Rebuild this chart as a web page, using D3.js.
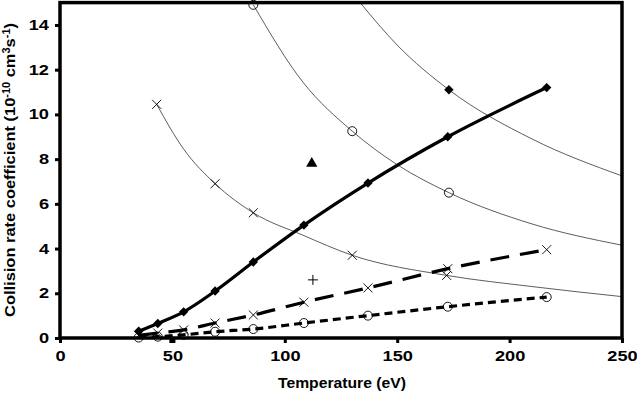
<!DOCTYPE html>
<html>
<head>
<meta charset="utf-8">
<script src="https://cdn.jsdelivr.net/npm/d3@7"></script>
<style>
  body { margin: 0; background: #fff; }
  text { font-family: "Liberation Sans", Arial, sans-serif; font-weight: bold; }
</style>
</head>
<body>
<div id="chart"></div>
<script>
// measured series (thick lines)
const temps = [35, 43.5, 55, 69, 86, 108.5, 137, 172.5, 216.5];
const rateDiamond = [0.3, 0.65, 1.17, 2.1, 3.4, 5.05, 6.93, 9.0, 11.2];
const rateCross = [0.12, 0.22, 0.36, 0.67, 1.03, 1.6, 2.24, 3.1, 3.95];
const rateCircle = [0.02, 0.06, 0.14, 0.28, 0.4, 0.67, 1.0, 1.4, 1.83];

// thin fitted curves
const fitA_T = [43, 55, 69, 86, 108, 130, 172, 210, 250];
const fitA = [10.45, 8.45, 6.9, 5.6, 4.6, 3.7, 2.8, 2.3, 1.85];
const fitA_marks = [[43, 10.45], [69, 6.9], [86, 5.6], [130, 3.7], [172, 2.8]];

const fitB_T = [86, 108, 130, 150, 173, 210, 250];
const fitB = [14.9, 11.45, 9.25, 7.75, 6.5, 5.1, 4.15];
const fitB_marks = [[86, 14.9], [130, 9.25], [173, 6.5]];

const fitC_T = [133.5, 150, 173, 210, 250];
const fitC = [15, 13.1, 11.1, 8.9, 7.25];
const fitC_marks = [[173, 11.1]];

// single points
const triPoint = [112, 7.8];
const plusPoint = [112.5, 2.6];
const squarePoint = [50, 0];

const xTicks = [0, 50, 100, 150, 200, 250];
const yTicks = [0, 2, 4, 6, 8, 10, 12, 14];

const W = 637, H = 396;
const margin = { top: 2.6, right: 15, bottom: 58, left: 60 };
const width = W - margin.left - margin.right;
const height = H - margin.top - margin.bottom;

const svg = d3.select("#chart").append("svg")
  .attr("width", W).attr("height", H);
const g = svg.append("g")
  .attr("transform", `translate(${margin.left},${margin.top})`);

const x = d3.scaleLinear().domain([0, 250]).range([0, width]);
const y = d3.scaleLinear().domain([0, 15]).range([height, 0]);

g.append("clipPath").attr("id", "clip")
  .append("rect").attr("width", width).attr("height", height);

const plot = g.append("g").attr("clip-path", "url(#clip)");

const line = d3.line().x(d => x(d[0])).y(d => y(d[1])).curve(d3.curveMonotoneX);

// thin curves
[[fitA_T, fitA], [fitB_T, fitB], [fitC_T, fitC]].forEach(([ts, vs]) => {
  plot.append("path")
    .datum(ts.map((t, i) => [t, vs[i]]))
    .attr("d", line)
    .attr("fill", "none")
    .attr("stroke", "#333")
    .attr("stroke-width", 0.8);
});

// thick series
plot.append("path")
  .datum(temps.map((t, i) => [t, rateCircle[i]]))
  .attr("d", line).attr("fill", "none")
  .attr("stroke", "#000").attr("stroke-width", 3.2)
  .attr("stroke-dasharray", "8,5");
plot.append("path")
  .datum(temps.map((t, i) => [t, rateCross[i]]))
  .attr("d", line).attr("fill", "none")
  .attr("stroke", "#000").attr("stroke-width", 3.2)
  .attr("stroke-dasharray", "19,11");
plot.append("path")
  .datum(temps.map((t, i) => [t, rateDiamond[i]]))
  .attr("d", line).attr("fill", "none")
  .attr("stroke", "#000").attr("stroke-width", 3.2);

// markers
const diamond = d3.symbol().type(d3.symbolSquare).size(44);
const drawCross = (sel, pts) => {
  sel.selectAll(null).data(pts).enter().append("path")
    .attr("d", d => {
      const cx = x(d[0]), cy = y(d[1]), s = 4.5;
      return `M${cx - s},${cy - s}L${cx + s},${cy + s}M${cx - s},${cy + s}L${cx + s},${cy - s}`;
    })
    .attr("stroke", "#000").attr("stroke-width", 0.9).attr("fill", "none");
};
const drawCircle = (sel, pts) => {
  sel.selectAll(null).data(pts).enter().append("circle")
    .attr("cx", d => x(d[0])).attr("cy", d => y(d[1])).attr("r", 4.5)
    .attr("fill", "none").attr("stroke", "#000").attr("stroke-width", 0.9);
};
const drawDiamond = (sel, pts) => {
  sel.selectAll(null).data(pts).enter().append("path")
    .attr("d", diamond)
    .attr("transform", d => `translate(${x(d[0])},${y(d[1])}) rotate(45)`)
    .attr("fill", "#000");
};

const marks = g.append("g");
drawCircle(marks, temps.map((t, i) => [t, rateCircle[i]]));
drawCross(marks, temps.map((t, i) => [t, rateCross[i]]));
drawDiamond(marks, temps.map((t, i) => [t, rateDiamond[i]]));
drawCross(marks, fitA_marks);
drawCircle(marks, fitB_marks);
drawDiamond(marks, fitC_marks);

marks.append("path")
  .attr("d", d3.symbol().type(d3.symbolTriangle).size(55))
  .attr("transform", `translate(${x(triPoint[0])},${y(triPoint[1])})`)
  .attr("fill", "#000");
marks.append("path")
  .attr("d", `M${x(plusPoint[0]) - 5},${y(plusPoint[1])}H${x(plusPoint[0]) + 5}M${x(plusPoint[0])},${y(plusPoint[1]) - 5}V${y(plusPoint[1]) + 5}`)
  .attr("stroke", "#000").attr("stroke-width", 1);
marks.append("rect")
  .attr("x", x(squarePoint[0]) - 3).attr("y", y(squarePoint[1]) - 1)
  .attr("width", 6).attr("height", 6).attr("fill", "#000");

// axes
const xAxis = g.append("g")
  .attr("transform", `translate(0,${height})`)
  .call(d3.axisBottom(x).tickValues(xTicks).tickSize(5).tickPadding(8));
const yAxis = g.append("g")
  .call(d3.axisLeft(y).tickValues(yTicks).tickSize(5).tickPadding(6));
[xAxis, yAxis].forEach(a => {
  a.select(".domain").remove();
  a.selectAll("line").attr("stroke-width", 3);
  a.selectAll("text").style("font-size", "14px").attr("fill", "#000")
    .each(function() {
      // reference glyphs are wider than Arial's
      const l = this.getComputedTextLength();
      d3.select(this).attr("textLength", l * 1.3).attr("lengthAdjust", "spacingAndGlyphs");
    });
});

// frame
g.append("rect")
  .attr("width", width).attr("height", height)
  .attr("fill", "none").attr("stroke", "#000").attr("stroke-width", 3.5);

// titles
svg.append("text")
  .attr("x", 342).attr("y", 388)
  .attr("text-anchor", "middle").style("font-size", "15px")
  .attr("textLength", 128).attr("lengthAdjust", "spacingAndGlyphs")
  .text("Temperature (eV)");

const yt = svg.append("text")
  .attr("transform", "translate(15,170) rotate(-90)")
  .attr("text-anchor", "middle").style("font-size", "15px")
  .attr("textLength", 294).attr("lengthAdjust", "spacingAndGlyphs");
yt.append("tspan").text("Collision rate coefficient (10");
yt.append("tspan").attr("dy", -5).style("font-size", "10px").text("-10");
yt.append("tspan").attr("dy", 5).text(" cm");
yt.append("tspan").attr("dy", -5).style("font-size", "10px").text("3");
yt.append("tspan").attr("dy", 5).text("s");
yt.append("tspan").attr("dy", -5).style("font-size", "10px").text("-1");
yt.append("tspan").attr("dy", 5).text(")");
</script>
</body>
</html>
